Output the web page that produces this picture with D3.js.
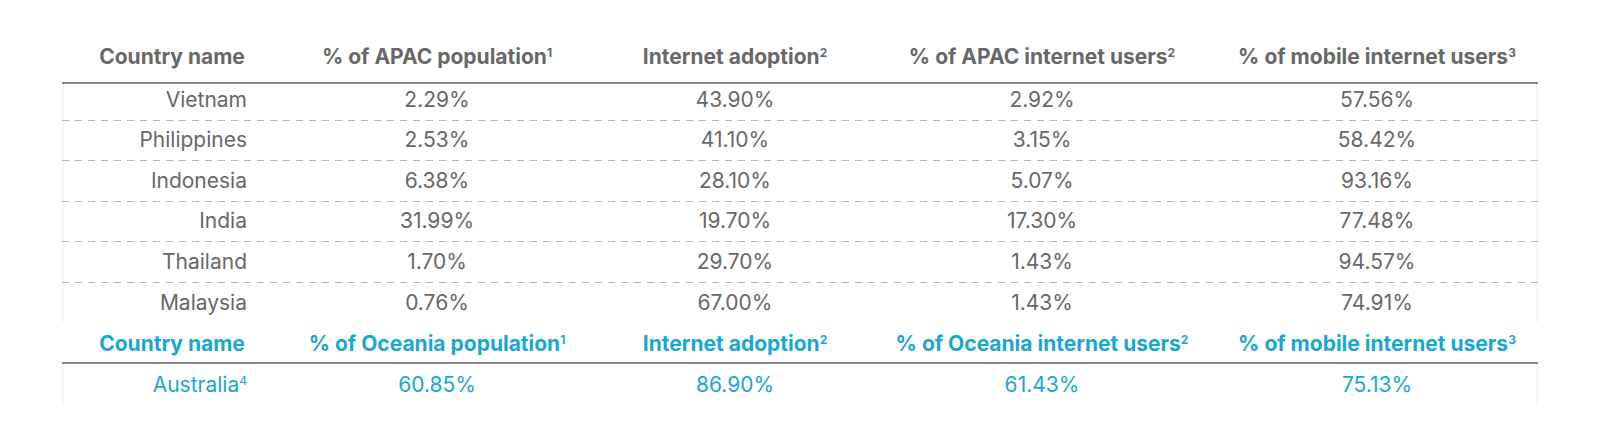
<!DOCTYPE html>
<html>
<head>
<meta charset="utf-8">
<script src="https://cdn.jsdelivr.net/npm/d3@7/dist/d3.min.js"></script>
<style>
  html, body { margin: 0; padding: 0; background: #fff; }
  svg { display: block; font-family: Inter, "Noto Sans", sans-serif; }
</style>
</head>
<body>
<div id="chart"></div>
<script>
// APAC table
var apacCountries = ['Vietnam', 'Philippines', 'Indonesia', 'India', 'Thailand', 'Malaysia'];
var apacPopulation = [2.29, 2.53, 6.38, 31.99, 1.70, 0.76];
var apacAdoption = [43.90, 41.10, 28.10, 19.70, 29.70, 67.00];
var apacInternetUsers = [2.92, 3.15, 5.07, 17.30, 1.43, 1.43];
var apacMobileUsers = [57.56, 58.42, 93.16, 77.48, 94.57, 74.91];
var apacHeaders = [
  ['Country name', ''],
  ['% of APAC population', '1'],
  ['Internet adoption', '2'],
  ['% of APAC internet users', '2'],
  ['% of mobile internet users', '3']
];

// Oceania table
var oceaniaCountries = ['Australia'];
var oceaniaNotes = ['4'];
var oceaniaPopulation = [60.85];
var oceaniaAdoption = [86.90];
var oceaniaInternetUsers = [61.43];
var oceaniaMobileUsers = [75.13];
var oceaniaHeaders = [
  ['Country name', ''],
  ['% of Oceania population', '1'],
  ['Internet adoption', '2'],
  ['% of Oceania internet users', '2'],
  ['% of mobile internet users', '3']
];

var width = 1600, height = 444;
var left = 62, right = 1538;
var gray = '#686868', blue = '#19a7d0';
var fontSize = '21px', supSize = '12px';
var pct = function(v) { return d3.format('.2f')(v) + '%'; };

var colKeys = ['name', 'pop', 'adopt', 'users', 'mobile'];
// centre of each column (first column body text is right-aligned at its own edge)
var colX = d3.scaleOrdinal().domain(colKeys).range([172, 437, 735, 1042, 1377]);
var nameRight = 247;

var svg = d3.select('#chart').append('svg')
  .attr('width', width)
  .attr('height', height);

function drawHeader(g, headers, y, color) {
  var t = g.selectAll('text.head')
    .data(headers)
    .enter()
    .append('text')
    .attr('class', 'head')
    .attr('x', function(d, i) { return colX(colKeys[i]); })
    .attr('y', y)
    .attr('dy', '0.35em')
    .attr('text-anchor', 'middle')
    .attr('fill', color)
    .attr('font-size', fontSize)
    .attr('font-weight', 700);
  t.append('tspan').text(function(d) { return d[0]; });
  t.append('tspan')
    .attr('font-size', supSize)
    .attr('dy', '-0.6em')
    .text(function(d) { return d[1]; });
}

function drawBody(g, countries, notes, columns, y0, y1, color, dashed) {
  var y = d3.scaleBand().domain(countries).range([y0, y1]);

  // faint side borders of the body
  g.selectAll('line.side')
    .data([left + 1, right - 1])
    .enter()
    .append('line')
    .attr('class', 'side')
    .attr('x1', function(d) { return d; })
    .attr('x2', function(d) { return d; })
    .attr('y1', y0 + 4)
    .attr('y2', y1)
    .attr('stroke', '#efefef')
    .attr('stroke-width', 1);

  if (dashed) {
    g.selectAll('line.sep')
      .data(countries.slice(1))
      .enter()
      .append('line')
      .attr('class', 'sep')
      .attr('x1', left)
      .attr('x2', right)
      .attr('y1', function(d) { return Math.round(y(d)) + 0.5; })
      .attr('y2', function(d) { return Math.round(y(d)) + 0.5; })
      .attr('stroke', '#b5b5b5')
      .attr('stroke-dasharray', '7,6');
  }

  var names = g.selectAll('text.name')
    .data(countries)
    .enter()
    .append('text')
    .attr('class', 'name')
    .attr('x', nameRight)
    .attr('y', function(d) { return y(d) + y.bandwidth() / 2; })
    .attr('dy', '0.35em')
    .attr('text-anchor', 'end')
    .attr('fill', color)
    .attr('font-size', fontSize);
  names.append('tspan').text(function(d) { return d; });
  names.append('tspan')
    .attr('font-size', supSize)
    .attr('dy', '-0.6em')
    .text(function(d, i) { return notes ? notes[i] : ''; });

  columns.forEach(function(values, c) {
    g.selectAll('text.c' + c)
      .data(values)
      .enter()
      .append('text')
      .attr('class', 'c' + c)
      .attr('x', colX(colKeys[c + 1]))
      .attr('y', function(d, i) { return y(countries[i]) + y.bandwidth() / 2; })
      .attr('dy', '0.35em')
      .attr('text-anchor', 'middle')
      .attr('fill', color)
      .attr('font-size', fontSize)
      .text(pct);
  });
}

function drawRule(g, y) {
  g.append('line')
    .attr('x1', left)
    .attr('x2', right)
    .attr('y1', y)
    .attr('y2', y)
    .attr('stroke', '#8a8a8a')
    .attr('stroke-width', 2);
}

var apac = svg.append('g');
drawHeader(apac, apacHeaders, 57, gray);
drawBody(apac, apacCountries, null,
  [apacPopulation, apacAdoption, apacInternetUsers, apacMobileUsers],
  79, 322.6, gray, true);
drawRule(apac, 83);

var oceania = svg.append('g');
drawHeader(oceania, oceaniaHeaders, 344, blue);
drawBody(oceania, oceaniaCountries, oceaniaNotes,
  [oceaniaPopulation, oceaniaAdoption, oceaniaInternetUsers, oceaniaMobileUsers],
  364, 405, blue, false);
drawRule(oceania, 363);
</script>
</body>
</html>
